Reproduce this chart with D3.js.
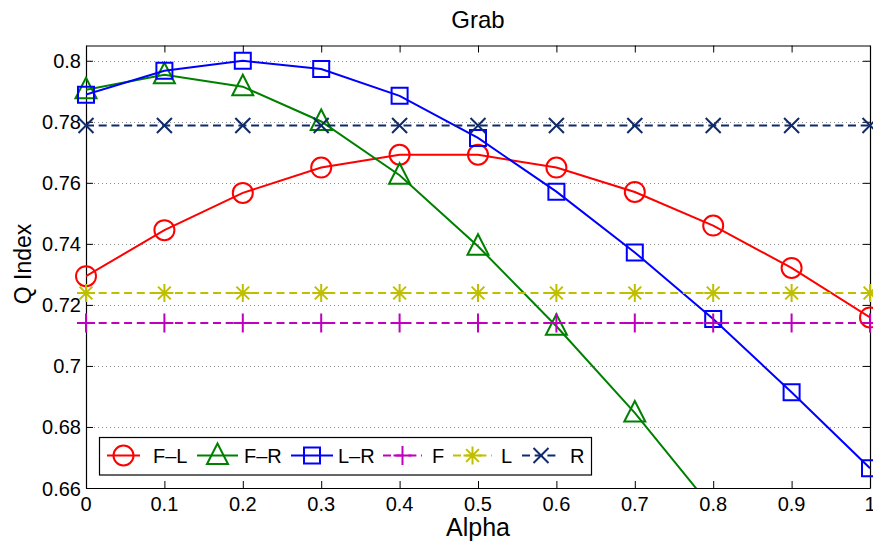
<!DOCTYPE html>
<html>
<head>
<meta charset="utf-8">
<script src="https://cdn.jsdelivr.net/npm/d3@7"></script>
<style>
  html, body { margin: 0; padding: 0; background: #fff; }
  svg { display: block; font-family: "Liberation Sans", Arial, Helvetica, sans-serif; }
</style>
</head>
<body>
<svg id="chart" width="873" height="544"></svg>
<script>
// Alpha sweep values
const alphas = [0, 0.1, 0.2, 0.3, 0.4, 0.5, 0.6, 0.7, 0.8, 0.9, 1.0];

// Q Index for each method
const fl = [0.7294, 0.7445, 0.7567, 0.7650, 0.7692, 0.7692, 0.7650, 0.7570, 0.7460, 0.7321, 0.7159];
const fr = [0.7905, 0.7954, 0.7915, 0.7801, 0.7625, 0.7392, 0.7130, 0.6846, 0.6530, 0.6170, 0.5780];
const lr = [0.7889, 0.7967, 0.8000, 0.7973, 0.7885, 0.7747, 0.7571, 0.7372, 0.7154, 0.6914, 0.6665];
const fOnly = [0.7141, 0.7141, 0.7141, 0.7141, 0.7141, 0.7141, 0.7141, 0.7141, 0.7141, 0.7141, 0.7141];
const lOnly = [0.7239, 0.7239, 0.7239, 0.7239, 0.7239, 0.7239, 0.7239, 0.7239, 0.7239, 0.7239, 0.7239];
const rOnly = [0.7788, 0.7788, 0.7788, 0.7788, 0.7788, 0.7788, 0.7788, 0.7788, 0.7788, 0.7788, 0.7788];

const seriesNames = ["F\u2013L", "F\u2013R", "L\u2013R", "F", "L", "R"];

const xTicks = [0, 0.1, 0.2, 0.3, 0.4, 0.5, 0.6, 0.7, 0.8, 0.9, 1];
const xTickLabels = ["0", "0.1", "0.2", "0.3", "0.4", "0.5", "0.6", "0.7", "0.8", "0.9", "1"];
const yTicks = [0.66, 0.68, 0.70, 0.72, 0.74, 0.76, 0.78, 0.80];
const yTickLabels = ["0.66", "0.68", "0.7", "0.72", "0.74", "0.76", "0.78", "0.8"];

const series = [
  { name: seriesNames[0], values: fl,    color: "#ff0000", marker: "circle",   dash: null },
  { name: seriesNames[1], values: fr,    color: "#008000", marker: "triangle", dash: null },
  { name: seriesNames[2], values: lr,    color: "#0000ff", marker: "square",   dash: null },
  { name: seriesNames[3], values: fOnly, color: "#bf00bf", marker: "plus",     dash: "8,4.7" },
  { name: seriesNames[4], values: lOnly, color: "#bfbf00", marker: "star",     dash: "8,4.7" },
  { name: seriesNames[5], values: rOnly, color: "#0f2b6c", marker: "cross",    dash: "8,4.7" }
];

const plot = { left: 86, right: 870, top: 45.5, bottom: 488 };
const yMin = 0.66, yMax = 0.805;

const svg = d3.select("#chart");
const x = d3.scaleLinear().domain([0, 1]).range([plot.left, plot.right]);
const y = d3.scaleLinear().domain([yMin, yMax]).range([plot.bottom, plot.top]);

// marker shapes
function markerPath(type) {
  switch (type) {
    case "circle": return d3.arc()({ innerRadius: 0, outerRadius: 10, startAngle: 0, endAngle: 2 * Math.PI });
    case "triangle": return "M0,-12L10.5,8.5L-10.5,8.5Z";
    case "square": return "M-8,-8H8V8H-8Z";
    case "plus": return "M-9,0H9M0,-9.5V9.5";
    case "star": return "M-9,0H9M0,-9V9M-6.4,-6.4L6.4,6.4M-6.4,6.4L6.4,-6.4";
    case "cross": return "M-7.5,-7.5L7.5,7.5M-7.5,7.5L7.5,-7.5";
  }
}

// dotted horizontal grid
const grid = svg.append("g");
grid.selectAll("line").data(yTicks.filter(v => v > yMin)).enter().append("line")
  .attr("x1", plot.left).attr("x2", plot.right)
  .attr("y1", d => Math.round(y(d)) + 0.5).attr("y2", d => Math.round(y(d)) + 0.5)
  .attr("stroke", "#8a8a8a").attr("stroke-width", 1).attr("stroke-dasharray", "1,3");

// axes with inward ticks on all four sides
const tickLen = 7;
const axisBottom = d3.axisBottom(x).tickValues(xTicks).tickSize(-tickLen).tickSizeOuter(0).tickFormat(() => "");
const axisTop = d3.axisTop(x).tickValues(xTicks).tickSize(-tickLen).tickSizeOuter(0).tickFormat(() => "");
const axisLeft = d3.axisLeft(y).tickValues(yTicks).tickSize(-tickLen).tickSizeOuter(0).tickFormat(() => "");
const axisRight = d3.axisRight(y).tickValues(yTicks).tickSize(-tickLen).tickSizeOuter(0).tickFormat(() => "");

function styleAxis(g) {
  g.select(".domain").attr("stroke", "#000").attr("stroke-width", 1.2);
  g.selectAll(".tick line").attr("stroke", "#000").attr("stroke-width", 1);
}
svg.append("g").attr("transform", `translate(0,${plot.bottom})`).call(axisBottom).call(styleAxis);
svg.append("g").attr("transform", `translate(0,${plot.top})`).call(axisTop).call(styleAxis);
svg.append("g").attr("transform", `translate(${plot.left},0)`).call(axisLeft).call(styleAxis);
svg.append("g").attr("transform", `translate(${plot.right},0)`).call(axisRight).call(styleAxis);

// tick labels
svg.append("g").selectAll("text").data(xTicks).enter().append("text")
  .attr("x", d => x(d)).attr("y", 511)
  .attr("text-anchor", "middle").attr("font-size", 20).attr("fill", "#000")
  .text((d, i) => xTickLabels[i]);
svg.append("g").selectAll("text").data(yTicks).enter().append("text")
  .attr("x", 81).attr("y", d => y(d) + 7.5)
  .attr("text-anchor", "end").attr("font-size", 20).attr("fill", "#000")
  .text((d, i) => yTickLabels[i]);

// titles
svg.append("text").attr("x", (plot.left + plot.right) / 2).attr("y", 28)
  .attr("text-anchor", "middle").attr("font-size", 24).text("Grab");
svg.append("text").attr("x", (plot.left + plot.right) / 2).attr("y", 536)
  .attr("text-anchor", "middle").attr("font-size", 25).text("Alpha");
svg.append("text").attr("transform", "translate(31,264) rotate(-90)")
  .attr("text-anchor", "middle").attr("font-size", 23).text("Q Index");

// data lines, clipped to the axes box
svg.append("defs").append("clipPath").attr("id", "plotClip")
  .append("rect").attr("x", plot.left).attr("y", plot.top)
  .attr("width", plot.right - plot.left).attr("height", plot.bottom - plot.top);

const line = d3.line().x((d, i) => x(alphas[i])).y(d => y(d));
const data = svg.append("g");
series.forEach(s => {
  data.append("path").datum(s.values)
    .attr("clip-path", "url(#plotClip)")
    .attr("d", line).attr("fill", "none")
    .attr("stroke", s.color).attr("stroke-width", 2)
    .attr("stroke-dasharray", s.dash);
  data.append("g").selectAll("path")
    .data(s.values.map((v, i) => [alphas[i], v]).filter(p => p[1] >= yMin && p[1] <= yMax))
    .enter().append("path")
    .attr("transform", p => `translate(${x(p[0])},${y(p[1])})`)
    .attr("d", markerPath(s.marker))
    .attr("fill", "none").attr("stroke", s.color).attr("stroke-width", 2);
});

// legend
const legend = svg.append("g");
legend.append("rect").attr("x", 99.5).attr("y", 437.5).attr("width", 492).attr("height", 37.5)
  .attr("fill", "#fff").attr("stroke", "#000").attr("stroke-width", 1.2);
const legendItems = [
  { x1: 107, x2: 140, tx: 153 },
  { x1: 197, x2: 238, tx: 244 },
  { x1: 291, x2: 333, tx: 338 },
  { x1: 383, x2: 422, tx: 432 },
  { x1: 453, x2: 492, tx: 501 },
  { x1: 522, x2: 560, tx: 570 }
];
const ly = 455.5;
series.forEach((s, i) => {
  const it = legendItems[i];
  legend.append("line").attr("x1", it.x1).attr("x2", it.x2).attr("y1", ly).attr("y2", ly)
    .attr("stroke", s.color).attr("stroke-width", 2).attr("stroke-dasharray", s.dash);
  legend.append("path").attr("transform", `translate(${(it.x1 + it.x2) / 2},${ly})`)
    .attr("d", markerPath(s.marker)).attr("fill", "none")
    .attr("stroke", s.color).attr("stroke-width", 2);
  legend.append("text").attr("x", it.tx).attr("y", 462.5)
    .attr("font-size", 20).attr("fill", "#000").text(s.name);
});
</script>
</body>
</html>
